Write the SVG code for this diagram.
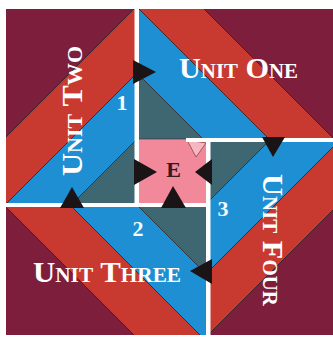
<svg xmlns="http://www.w3.org/2000/svg" width="333" height="339" viewBox="0 0 333 339">
<style>
.m{fill:#7d1f3c}
.r{fill:#c83a2f}
.b{fill:#1e8fd2}
.t{fill:#3f6772}
.s{stroke:#33262b;stroke-width:0.8;stroke-linejoin:round}
.lbl{font-family:"Liberation Serif",serif;font-weight:bold;font-variant:small-caps;font-size:29px;fill:#fff}
.num{font-family:"Liberation Serif",serif;font-weight:bold;font-size:22px;fill:#f4f9fc;text-anchor:middle}
.arr{fill:#1b1416}
.wl{fill:#fff}
</style>
<defs>
<clipPath id="c2"><rect x="6" y="9" width="131" height="196"/></clipPath>
<clipPath id="c1"><rect x="137" y="9" width="196" height="131"/></clipPath>
<clipPath id="c4"><rect x="207" y="140" width="126" height="195"/></clipPath>
<clipPath id="c3"><rect x="6" y="205" width="201" height="130"/></clipPath>
</defs>
<rect width="333" height="339" fill="#fff"/>
<g id="unit-two">
<g clip-path="url(#c2)">
<rect x="6" y="9" width="131" height="196" class="t"/>
<polygon class="b s" points="210,0 276,0 0,276 0,210"/>
<polygon class="r s" points="143,0 210,0 0,210 0,143"/>
<polygon class="m s" points="0,0 143,0 0,143"/>
</g>
<text class="lbl" transform="translate(82,176) rotate(-90)" textLength="130" lengthAdjust="spacingAndGlyphs">Unit Two</text>
<text class="num" x="122" y="110">1</text>
</g>
<g id="unit-one">
<g clip-path="url(#c1)">
<rect x="137" y="9" width="196" height="131" class="t"/>
<polygon class="b s" points="64,0 130,0 280,150 214,150"/>
<polygon class="r s" points="130,0 195,0 345,150 280,150"/>
<polygon class="m s" points="195,0 345,0 345,150"/>
</g>
<text class="lbl" x="179" y="78" textLength="119" lengthAdjust="spacingAndGlyphs">Unit One</text>
</g>
<g id="unit-four">
<g clip-path="url(#c4)">
<rect x="207" y="140" width="126" height="195" class="t"/>
<polygon class="b s" points="340,70 340,140 140,340 70,340"/>
<polygon class="r s" points="340,140 340,203 203,340 140,340"/>
<polygon class="m s" points="340,203 340,340 203,340"/>
</g>
<text class="lbl" transform="translate(263,174) rotate(90)" textLength="132" lengthAdjust="spacingAndGlyphs">Unit Four</text>
<text class="num" x="223" y="216">3</text>
</g>
<g id="unit-three">
<g clip-path="url(#c3)">
<rect x="6" y="205" width="201" height="130" class="t"/>
<polygon class="b s" points="0,68 0,135 205,340 272,340"/>
<polygon class="r s" points="0,135 0,201 139,340 205,340"/>
<polygon class="m s" points="0,201 0,340 139,340"/>
</g>
<text class="lbl" x="33" y="282" textLength="148" lengthAdjust="spacingAndGlyphs">Unit Three</text>
<text class="num" x="138" y="236">2</text>
</g>
<g id="center-e">
<rect x="138" y="139" width="69" height="65" fill="#f2899b" stroke="#33262b" stroke-width="0.6"/>
<polygon points="187,140 206,143 196,157" fill="#f6b7c1" stroke="#7a3a45" stroke-width="0.7"/>
<text x="173.5" y="177" text-anchor="middle" font-family="'Liberation Serif',serif" font-weight="bold" font-size="22" fill="#3b1720">E</text>
</g>
<g id="connectors">
<rect class="wl" x="134.5" y="9" width="4.5" height="198"/>
<rect class="wl" x="6" y="203" width="204" height="4"/>
<rect class="wl" x="206" y="138" width="4.5" height="197"/>
<rect class="wl" x="186" y="138" width="147" height="4"/>
<polygon class="arr" points="133,60 156,72 133,84"/>
<polygon class="arr" points="262,137 285,137 273,157"/>
<polygon class="arr" points="212,259 190,271 212,284"/>
<polygon class="arr" points="60,208 72,187 84,208"/>
<polygon class="arr" points="134,159 157,172 134,185"/>
<polygon class="arr" points="212,159 195,172 212,185"/>
<polygon class="arr" points="161,208 173,186 186,208"/>
</g>
</svg>
